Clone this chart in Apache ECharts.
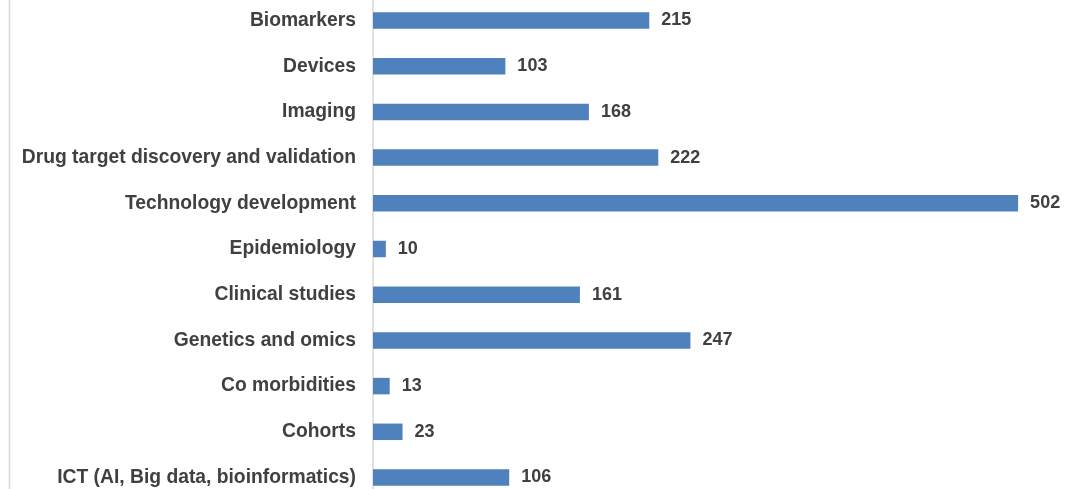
<!DOCTYPE html>
<html>
<head>
<meta charset="utf-8">
<style>
  html, body { margin: 0; padding: 0; background: #fff; }
  #main { width: 1089px; height: 489px; }
</style>
<script src="https://cdn.jsdelivr.net/npm/echarts@6/dist/echarts.min.js"></script>
</head>
<body>
<div id="main"></div>
<script>
// categories top to bottom
const categories = [
  'Biomarkers',
  'Devices',
  'Imaging',
  'Drug target discovery and validation',
  'Technology development',
  'Epidemiology',
  'Clinical studies',
  'Genetics and omics',
  'Co morbidities',
  'Cohorts',
  'ICT (AI, Big data, bioinformatics)'
]
const counts = [215, 103, 168, 222, 502, 10, 161, 247, 13, 23, 106]

const chart = echarts.init(document.getElementById('main'))

const option = {
  animation: false,
  backgroundColor: '#fff',
  graphic: [
    {
      // light frame line on the left edge
      type: 'line',
      shape: { x1: 9.5, y1: 0, x2: 9.5, y2: 489 },
      style: { stroke: '#d9d9d9', lineWidth: 1.5 }
    },
    {
      // the category axis line runs the full height
      type: 'line',
      shape: { x1: 373, y1: 0, x2: 373, y2: 489 },
      style: { stroke: '#d9d9d9', lineWidth: 1.5 }
    }
  ],
  grid: {
    left: 373,
    top: 20.5,
    width: 706.8,
    height: 457,
    containLabel: false
  },
  xAxis: {
    type: 'value',
    min: 0,
    max: 550,
    show: false
  },
  yAxis: {
    type: 'category',
    inverse: true,
    boundaryGap: false,
    data: categories,
    axisLine: { show: false },
    axisTick: { show: false },
    splitLine: { show: false },
    axisLabel: {
      margin: 17,
      fontFamily: 'Liberation Sans, Arial, sans-serif',
      fontSize: 19.3,
      fontWeight: 'bold',
      color: '#404040',
      padding: [2, 0, 0, 0]
    }
  },
  series: [
    {
      type: 'bar',
      data: counts,
      barWidth: 16.5,
      itemStyle: { color: '#4f81bd' },
      label: {
        show: true,
        position: 'right',
        distance: 12,
        fontFamily: 'Liberation Sans, Arial, sans-serif',
        fontSize: 18,
        fontWeight: 'bold',
        color: '#404040',
        padding: [2, 0, 0, 0]
      }
    }
  ]
}

chart.setOption(option)
</script>
</body>
</html>
